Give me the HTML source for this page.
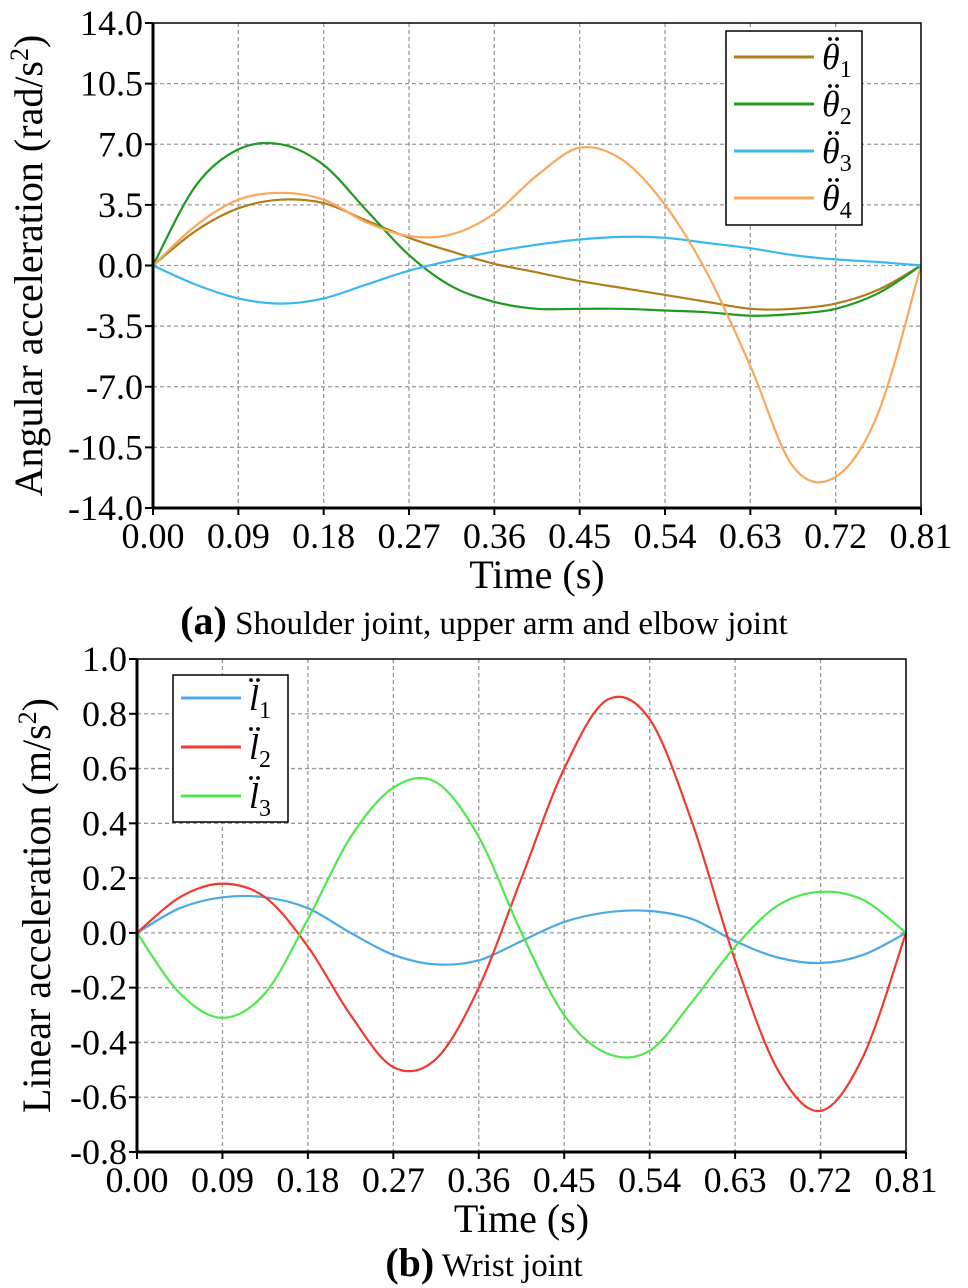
<!DOCTYPE html>
<html><head><meta charset="utf-8">
<style>
html,body{margin:0;padding:0;background:#fff;}
svg{display:block;font-family:"Liberation Serif",serif;}
</style></head>
<body>
<svg id="chart" width="968" height="1288" viewBox="0 0 968 1288" xmlns="http://www.w3.org/2000/svg"></svg>
<script>
const xTicks = [0.00,0.09,0.18,0.27,0.36,0.45,0.54,0.63,0.72,0.81];
const aYTicks = [14.0,10.5,7.0,3.5,0.0,-3.5,-7.0,-10.5,-14.0];
const aX = [0,0.045,0.09,0.135,0.18,0.225,0.27,0.315,0.36,0.405,0.45,0.495,0.54,0.585,0.63,0.675,0.72,0.765,0.81];
const theta1 = [0,2.0,3.3,3.8,3.6,2.6,1.6,0.8,0.1,-0.4,-0.9,-1.3,-1.7,-2.1,-2.5,-2.5,-2.2,-1.4,0];
const theta2 = [0,4.6,6.7,7.0,5.8,3.2,0.6,-1.2,-2.1,-2.5,-2.5,-2.5,-2.6,-2.7,-2.9,-2.8,-2.5,-1.6,0];
const theta3 = [0,-1.1,-1.9,-2.2,-1.9,-1.1,-0.3,0.3,0.8,1.2,1.5,1.65,1.6,1.3,1.0,0.6,0.35,0.2,0];
const theta4 = [0,2.3,3.8,4.2,3.8,2.5,1.7,1.8,3.0,5.2,6.8,6.1,3.5,-0.5,-5.8,-11.6,-12.2,-8.5,0];
const bYTicks = [1.0,0.8,0.6,0.4,0.2,0.0,-0.2,-0.4,-0.6,-0.8];
const bX = [0,0.045,0.09,0.135,0.18,0.225,0.27,0.315,0.36,0.405,0.45,0.495,0.54,0.585,0.63,0.675,0.72,0.765,0.81];
const l1 = [0,0.09,0.13,0.13,0.09,0.0,-0.08,-0.115,-0.1,-0.03,0.04,0.075,0.08,0.05,-0.03,-0.09,-0.11,-0.08,0];
const l2 = [0,0.13,0.18,0.13,-0.05,-0.3,-0.49,-0.46,-0.2,0.2,0.6,0.85,0.78,0.4,-0.1,-0.5,-0.65,-0.45,0];
const l3 = [0,-0.22,-0.31,-0.22,0.05,0.35,0.53,0.55,0.35,0.0,-0.3,-0.44,-0.43,-0.25,-0.05,0.1,0.15,0.12,0];

const NS="http://www.w3.org/2000/svg";
const svg=document.getElementById('chart');
function el(tag,attrs,parent,text){const e=document.createElementNS(NS,tag);for(const k in attrs)e.setAttribute(k,attrs[k]);if(text!==undefined)e.textContent=text;(parent||svg).appendChild(e);return e;}
function smooth(pts){let d='M'+pts[0][0]+','+pts[0][1];for(let i=0;i<pts.length-1;i++){const p0=pts[Math.max(0,i-1)],p1=pts[i],p2=pts[i+1],p3=pts[Math.min(pts.length-1,i+2)];const c1=[p1[0]+(p2[0]-p0[0])/6,p1[1]+(p2[1]-p0[1])/6];const c2=[p2[0]-(p3[0]-p1[0])/6,p2[1]-(p3[1]-p1[1])/6];d+=' C'+c1[0].toFixed(1)+','+c1[1].toFixed(1)+' '+c2[0].toFixed(1)+','+c2[1].toFixed(1)+' '+p2[0].toFixed(1)+','+p2[1].toFixed(1);}return d;}

function panel(cfg){
  const g=el('g',{});
  
  
  const X=v=>cfg.x0+(v-0)/(0.81)*(cfg.x1-cfg.x0);
  const Y=v=>cfg.y0+(cfg.ymax-v)/(cfg.ymax-cfg.ymin)*(cfg.y1-cfg.y0);
  xTicks.forEach((t,i)=>{if(i>0&&i<xTicks.length-1){const l=el('line',{x1:X(t),x2:X(t),y1:cfg.y0,y2:cfg.y1,stroke:'#999','stroke-width':1.3,'stroke-dasharray':'4,3'},g);}});
  cfg.yTicks.forEach((t,i)=>{if(i>0&&i<cfg.yTicks.length-1){const l=el('line',{x1:cfg.x0,x2:cfg.x1,y1:Y(t),y2:Y(t),stroke:'#999','stroke-width':1.3,'stroke-dasharray':'4,3'},g);}});
  cfg.series.forEach(s=>{const pts=cfg.xs.map((x,i)=>[X(x),Y(s.v[i])]);const p=el('path',{d:smooth(pts),fill:'none',stroke:s.c,'stroke-width':2.2},g);});
  const f=el('rect',{x:cfg.x0,y:cfg.y0,width:cfg.x1-cfg.x0,height:cfg.y1-cfg.y0,fill:'none',stroke:'#000','stroke-width':1.5},g);
  
  el('line',{x1:cfg.x0,x2:cfg.x0,y1:cfg.y0,y2:cfg.y1,stroke:'#000','stroke-width':3},g);
  el('line',{x1:cfg.x0,x2:cfg.x1,y1:cfg.y1,y2:cfg.y1,stroke:'#000','stroke-width':3},g);
  xTicks.forEach(t=>{el('line',{x1:X(t),x2:X(t),y1:cfg.y1,y2:cfg.y1+7,stroke:'#000','stroke-width':2},g);const tx=el('text',{x:X(t),y:cfg.y1+40,'text-anchor':'middle','font-size':36},g,t.toFixed(2));});
  cfg.yTicks.forEach(t=>{el('line',{x1:cfg.x0-8,x2:cfg.x0,y1:Y(t),y2:Y(t),stroke:'#000','stroke-width':2},g);const tx=el('text',{x:cfg.x0-10,y:Y(t)+12,'text-anchor':'end','font-size':36},g,t.toFixed(1));});
  const xt=el('text',{x:(cfg.x0+cfg.x1)/2,y:cfg.y1+80,'text-anchor':'middle','font-size':40},g,'Time (s)');
  
  const yt=el('text',{x:0,y:0,'text-anchor':'middle','font-size':40,transform:'translate('+cfg.ytx+','+(cfg.y0+cfg.y1)/2+') rotate(-90)'},g);
  
  yt.innerHTML=cfg.ytitle;
  const L=cfg.legend;
  const lb=el('rect',{x:L.x,y:L.y,width:L.w,height:L.h,fill:'#fff',stroke:'#000','stroke-width':1.5},g);
  
  cfg.series.forEach((s,i)=>{const yy=L.y+L.first+i*L.step;const ll=el('line',{x1:L.x+8,x2:L.x+L.lw,y1:yy,y2:yy,stroke:s.c,'stroke-width':3},g);
    const tx0=L.x+L.lw+8;
    const t=el('text',{x:tx0,y:yy+12,'font-size':36,'font-style':'italic'},g);
    t.innerHTML=L.sym+'<tspan font-size="24" font-style="normal" dy="8">'+(i+1)+'</tspan>';
    el('circle',{cx:tx0+L.dotdx,cy:yy-18,r:1.9,fill:'#000'},g);
    el('circle',{cx:tx0+L.dotdx+7,cy:yy-18,r:1.9,fill:'#000'},g);});
}

panel({name:'panel-a',x0:153,x1:921,y0:23,y1:508,ymax:14,ymin:-14,yTicks:aYTicks,xs:aX,ytx:42,
  ytitle:'Angular acceleration (rad/s<tspan font-size="26" dy="-14">2</tspan><tspan dy="14">)</tspan>',
  series:[{n:'theta1-line',c:'#b07d1a',v:theta1},{n:'theta2-line',c:'#1f9a1f',v:theta2},{n:'theta3-line',c:'#3ab7ee',v:theta3},{n:'theta4-line',c:'#f9a85a',v:theta4}],
  legend:{x:726,y:31,w:136,h:194,first:26,step:47,lw:88,sym:'θ',dotdx:8}});
panel({name:'panel-b',x0:137,x1:906,y0:659,y1:1152,ymax:1.0,ymin:-0.8,yTicks:bYTicks,xs:bX,ytx:50,
  ytitle:'Linear acceleration (m/s<tspan font-size="26" dy="-14">2</tspan><tspan dy="14">)</tspan>',
  series:[{n:'l1-line',c:'#4ba9e6',v:l1},{n:'l2-line',c:'#f03a2e',v:l2},{n:'l3-line',c:'#4ee84e',v:l3}],
  legend:{x:173,y:675,w:115,h:147,first:23,step:49,lw:68,sym:'l',dotdx:2}});

const ca=el('text',{x:484,y:634,'text-anchor':'middle','font-size':33});

ca.innerHTML='<tspan font-weight="bold" font-size="40">(a)</tspan> Shoulder joint, upper arm and elbow joint';
const cb=el('text',{x:484,y:1276,'text-anchor':'middle','font-size':33});

cb.innerHTML='<tspan font-weight="bold" font-size="40">(b)</tspan> Wrist joint';
</script>
</body></html>
